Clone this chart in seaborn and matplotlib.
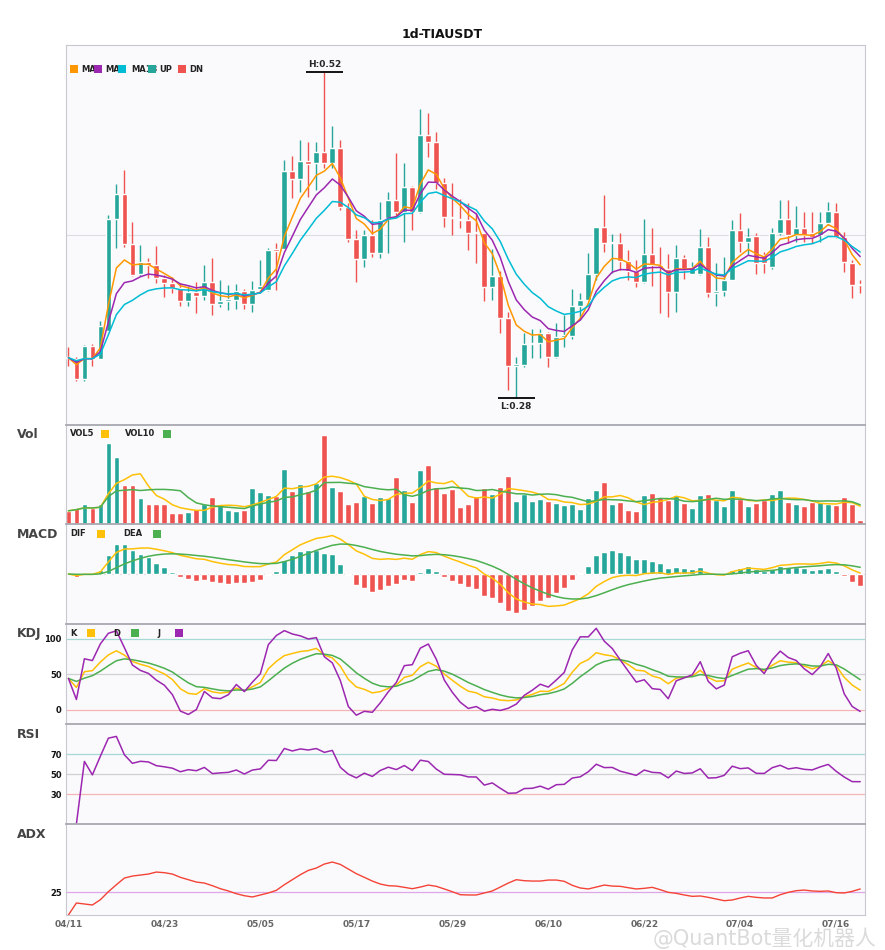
import numpy as np
import pandas as pd
import matplotlib
matplotlib.use("Agg")
import matplotlib.pyplot as plt
import seaborn as sns
from matplotlib.patches import Rectangle
from matplotlib.ticker import MultipleLocator

# ============================================================
# Data (1d candles)
# ============================================================

symbol = "1d-TIAUSDT"
start_date = "2024-04-11"

opens = [0.3100, 0.3085, 0.2937, 0.3178, 0.3080, 0.3291, 0.4115, 0.4300, 0.3931, 0.3709,
         0.3796, 0.3779, 0.3677, 0.3646, 0.3609, 0.3513, 0.3577, 0.3550, 0.3648, 0.3491,
         0.3510, 0.3518, 0.3584, 0.3491, 0.3601, 0.3591, 0.3892, 0.3892, 0.4470, 0.4413,
         0.4544, 0.4526, 0.4610, 0.4531, 0.4637, 0.4207, 0.3968, 0.3820, 0.3997, 0.3867,
         0.4120, 0.4256, 0.4170, 0.4354, 0.4170, 0.4735, 0.4686, 0.4379, 0.4133, 0.4113,
         0.4108, 0.4020, 0.4015, 0.3616, 0.3695, 0.3387, 0.3033, 0.3038, 0.3193, 0.3203,
         0.3272, 0.3100, 0.3247, 0.3252, 0.3474, 0.3518, 0.3710, 0.4059, 0.3937, 0.3937,
         0.3809, 0.3735, 0.3654, 0.3858, 0.3777, 0.3745, 0.3580, 0.3826, 0.3710, 0.3710,
         0.3912, 0.3573, 0.3585, 0.3666, 0.4035, 0.3949, 0.3991, 0.3850, 0.3759, 0.4010,
         0.4114, 0.3998, 0.4047, 0.4010, 0.3998, 0.4084, 0.4165, 0.3986, 0.3789, 0.3632]

highs = [0.3170, 0.3094, 0.3183, 0.3193, 0.3363, 0.4145, 0.4374, 0.4477, 0.4096, 0.3923,
         0.3830, 0.3916, 0.3702, 0.3690, 0.3641, 0.3621, 0.3648, 0.3776, 0.3830, 0.3665,
         0.3628, 0.3633, 0.3596, 0.3658, 0.3813, 0.3904, 0.3941, 0.4551, 0.4581, 0.4699,
         0.4686, 0.4686, 0.5203, 0.4802, 0.4699, 0.4231, 0.4034, 0.4034, 0.4108, 0.4243,
         0.4317, 0.4600, 0.4531, 0.4359, 0.4925, 0.4900, 0.4760, 0.4416, 0.4379, 0.4261,
         0.4231, 0.4157, 0.4015, 0.3892, 0.3734, 0.3427, 0.3100, 0.3272, 0.3301, 0.3301,
         0.3284, 0.3346, 0.3407, 0.3597, 0.3567, 0.3867, 0.4059, 0.4293, 0.4005, 0.4015,
         0.3887, 0.3814, 0.4114, 0.4047, 0.3912, 0.3858, 0.3924, 0.3851, 0.3801, 0.4040,
         0.3981, 0.3789, 0.3838, 0.4109, 0.4158, 0.4047, 0.4011, 0.3875, 0.4047, 0.4256,
         0.4256, 0.4212, 0.4165, 0.4165, 0.4165, 0.4239, 0.4232, 0.4023, 0.3814, 0.3666]

lows = [0.3030, 0.2922, 0.2922, 0.3031, 0.3080, 0.3291, 0.3899, 0.3911, 0.3695, 0.3695,
        0.3677, 0.3646, 0.3537, 0.3567, 0.3476, 0.3476, 0.3419, 0.3518, 0.3407, 0.3468,
        0.3444, 0.3449, 0.3454, 0.3429, 0.3591, 0.3584, 0.3591, 0.3892, 0.4273, 0.4317,
        0.4280, 0.4330, 0.4489, 0.4489, 0.4182, 0.3948, 0.3653, 0.3759, 0.3838, 0.3825,
        0.3862, 0.4133, 0.3948, 0.4034, 0.4163, 0.4576, 0.4335, 0.4059, 0.3997, 0.4047,
        0.3887, 0.3793, 0.3513, 0.3518, 0.3272, 0.2854, 0.2792, 0.3026, 0.3087, 0.3087,
        0.3021, 0.3093, 0.3173, 0.3228, 0.3370, 0.3518, 0.3665, 0.3874, 0.3715, 0.3740,
        0.3666, 0.3617, 0.3646, 0.3622, 0.3425, 0.3390, 0.3432, 0.3671, 0.3708, 0.3703,
        0.3543, 0.3474, 0.3550, 0.3666, 0.3875, 0.3850, 0.3710, 0.3715, 0.3745, 0.3998,
        0.3937, 0.3949, 0.3949, 0.3937, 0.3949, 0.4072, 0.3973, 0.3727, 0.3536, 0.3573]

closes = [0.3092, 0.2937, 0.3178, 0.3080, 0.3326, 0.4115, 0.4300, 0.3931, 0.3702, 0.3796,
          0.3779, 0.3677, 0.3646, 0.3609, 0.3513, 0.3577, 0.3550, 0.3648, 0.3491, 0.3510,
          0.3523, 0.3584, 0.3491, 0.3591, 0.3621, 0.3887, 0.3882, 0.4470, 0.4413, 0.4544,
          0.4521, 0.4610, 0.4531, 0.4637, 0.4207, 0.3968, 0.3820, 0.3997, 0.3867, 0.4108,
          0.4256, 0.4170, 0.4354, 0.4170, 0.4735, 0.4686, 0.4379, 0.4133, 0.4123, 0.4108,
          0.4015, 0.4012, 0.3616, 0.3695, 0.3387, 0.3033, 0.3043, 0.3193, 0.3203, 0.3272,
          0.3100, 0.3247, 0.3259, 0.3474, 0.3518, 0.3710, 0.4059, 0.3936, 0.3944, 0.3809,
          0.3735, 0.3654, 0.3858, 0.3777, 0.3759, 0.3580, 0.3826, 0.3740, 0.3759, 0.3912,
          0.3573, 0.3585, 0.3666, 0.4035, 0.3949, 0.3981, 0.3794, 0.3789, 0.4010, 0.4114,
          0.3998, 0.4047, 0.3998, 0.3981, 0.4084, 0.4175, 0.3986, 0.3801, 0.3629, 0.3627]

# volume in millions of TIA
volumes = [13.3, 15.7, 20.0, 15.7, 20.0, 81.3, 68.0, 39.0, 39.0, 26.0,
           20.0, 20.0, 20.0, 11.0, 11.0, 12.3, 14.7, 20.0, 27.0, 19.0,
           14.0, 13.0, 14.0, 36.0, 32.0, 29.0, 28.0, 56.0, 33.0, 40.0,
           33.0, 41.0, 90.0, 37.0, 33.0, 20.0, 22.0, 28.0, 21.0, 27.0,
           26.0, 47.0, 34.0, 22.0, 54.0, 60.0, 37.0, 31.0, 35.0, 17.0,
           20.0, 28.0, 36.0, 30.0, 37.0, 48.0, 23.0, 30.0, 23.0, 25.0,
           23.0, 21.0, 19.0, 20.0, 15.0, 26.0, 34.0, 42.0, 20.0, 22.0,
           14.0, 13.0, 29.0, 31.0, 27.0, 24.0, 29.0, 21.0, 16.0, 29.0,
           30.0, 24.0, 18.0, 34.0, 25.0, 18.0, 21.0, 24.0, 30.0, 34.0,
           22.0, 20.0, 18.0, 22.0, 22.0, 20.0, 19.0, 27.0, 20.0, 4.0]

adx_values = [0.0, 13.2, 12.1, 11.0, 16.8, 25.6, 33.3, 40.6, 42.8, 43.9,
              45.0, 47.2, 46.5, 45.0, 41.4, 38.8, 36.2, 35.1, 32.2, 28.9,
              26.4, 23.4, 21.2, 19.8, 22.0, 24.2, 27.1, 33.3, 38.8, 44.3,
              49.0, 51.6, 56.0, 58.2, 55.6, 50.5, 45.4, 41.4, 37.3, 34.0,
              32.2, 31.8, 30.4, 28.9, 30.7, 32.9, 31.5, 28.6, 25.6, 22.3,
              22.0, 22.0, 24.2, 26.4, 30.7, 35.1, 38.8, 37.7, 37.3, 37.3,
              38.4, 38.4, 37.0, 32.6, 29.7, 28.6, 30.7, 32.9, 31.8, 31.5,
              30.0, 28.6, 29.3, 30.4, 27.8, 24.9, 23.8, 22.0, 20.5, 20.9,
              19.4, 17.6, 15.7, 16.5, 18.7, 20.5, 19.4, 18.7, 18.7, 22.3,
              24.9, 26.7, 27.4, 26.4, 26.0, 26.4, 24.5, 24.2, 26.0, 28.6]

ema_periods = [5, 8, 13]
vol_periods = [5, 10]

# ============================================================
# Colours
# ============================================================

UP = "#26a69a"
DN = "#ef5350"
MA_COLORS = ["#ff9800", "#9c27b0", "#00bcd4"]
YEL = "#ffc107"
GRN = "#4caf50"
PUR = "#9c27b0"
ADX_C = "#f44336"
BG = "#fafafc"

# ============================================================
# Indicators
# ============================================================

df = pd.DataFrame({"open": opens, "high": highs, "low": lows,
                   "close": closes, "volume": volumes, "adx": adx_values})
df["date"] = pd.date_range(start_date, periods=len(df), freq="D")
n = len(df)
x = np.arange(n)

for p in ema_periods:
    df[f"ema{p}"] = df["close"].ewm(span=p, adjust=False).mean()
for p in vol_periods:
    df[f"vol{p}"] = df["volume"].rolling(p, min_periods=1).mean()

ema12 = df["close"].ewm(span=12, adjust=False).mean()
ema26 = df["close"].ewm(span=26, adjust=False).mean()
df["dif"] = ema12 - ema26
df["dea"] = df["dif"].ewm(span=9, adjust=False).mean()
df["hist"] = 2 * (df["dif"] - df["dea"])

llv = df["low"].rolling(9, min_periods=1).min()
hhv = df["high"].rolling(9, min_periods=1).max()
rsv = (df["close"] - llv) / (hhv - llv) * 100
df["k"] = rsv.ewm(com=2, adjust=False).mean()
df["d"] = df["k"].ewm(com=2, adjust=False).mean()
df["j"] = 3 * df["k"] - 2 * df["d"]

delta = df["close"].diff()
gain = delta.clip(lower=0).ewm(alpha=1 / 14, adjust=True).mean()
loss = (-delta.clip(upper=0)).ewm(alpha=1 / 14, adjust=True).mean()
df["rsi"] = 100 * gain / (gain + loss)

# ============================================================
# Figure layout
# ============================================================

sns.set_theme(style="white")
plt.rcParams["font.family"] = ["DejaVu Sans", "Noto Sans CJK SC"]

W_PX, H_PX = 885, 950
LEFT_PX, RIGHT_PX = 66, 865

fig = plt.figure(figsize=(W_PX / 100, H_PX / 100), dpi=100)
fig.patch.set_facecolor("white")


def add_panel(top_px, bot_px):
    ax = fig.add_axes([LEFT_PX / W_PX, 1 - bot_px / H_PX,
                       (RIGHT_PX - LEFT_PX) / W_PX, (bot_px - top_px) / H_PX])
    ax.set_facecolor(BG)
    ax.set_xlim(-0.3, n - 0.4)
    ax.tick_params(length=0, labelsize=6, pad=3)
    for s in ax.spines.values():
        s.set_color("#c8c8d0")
        s.set_linewidth(0.8)
    return ax, bot_px - top_px


ax_p, hp = add_panel(45, 425)
ax_v, hv = add_panel(425, 524)
ax_m, hm = add_panel(524, 624)
ax_k, hk = add_panel(624, 724)
ax_r, hr = add_panel(724, 824)
ax_a, ha = add_panel(824, 915)

for ax in [ax_v, ax_m, ax_k, ax_r, ax_a]:
    ax.spines["top"].set_color("#a8a8b0")
    ax.spines["top"].set_linewidth(1.3)


def legend_square(ax, ax_h, x_px, top_off, color):
    ax.add_patch(Rectangle(((x_px - LEFT_PX) / (RIGHT_PX - LEFT_PX), 1 - (top_off + 4) / ax_h),
                           8 / (RIGHT_PX - LEFT_PX), 8 / ax_h, transform=ax.transAxes,
                           facecolor=color, edgecolor="none", zorder=8, clip_on=False))


def legend_text(ax, ax_h, x_px, top_off, text):
    ax.text((x_px - LEFT_PX) / (RIGHT_PX - LEFT_PX), 1 - top_off / ax_h, text,
            transform=ax.transAxes, ha="left", va="center", fontsize=6,
            fontweight="bold", color="#222222", zorder=7)


# ============================================================
# Price panel
# ============================================================

o = df["open"].values
c = df["close"].values
hi = df["high"].values
lo = df["low"].values
colors = np.where(c >= o, UP, DN)

ax_p.vlines(x, lo, hi, colors=colors, linewidth=1.0, zorder=2)
body = np.maximum(np.abs(c - o), 0.0007)
ax_p.bar(x, body, bottom=np.minimum(o, c), width=0.72, color=colors, zorder=3)

for p, col in zip(ema_periods, MA_COLORS):
    sns.lineplot(x=x, y=df[f"ema{p}"].values, ax=ax_p, color=col,
                 linewidth=1.1, legend=False, zorder=4)

ax_p.set_ylim(0.2595, 0.540)
ax_p.yaxis.set_major_locator(MultipleLocator(0.2))
ax_p.grid(axis="y", color="#dcdce2", linewidth=0.8)
ax_p.tick_params(labelleft=False, labelbottom=False)
ax_p.set_xticks([])

hi_i = int(np.argmax(hi))
lo_i = int(np.argmin(lo))
ax_p.hlines(hi[hi_i], hi_i - 2.3, hi_i + 2.3, color="black", linewidth=1.3, zorder=5)
ax_p.annotate(f"H:{hi[hi_i]:.2f}", (hi_i, hi[hi_i]), xytext=(0, 2),
              textcoords="offset points", ha="center", va="bottom",
              fontsize=6.5, fontweight="bold")
ax_p.hlines(lo[lo_i], lo_i - 2.3, lo_i + 2.3, color="black", linewidth=1.3, zorder=5)
ax_p.annotate(f"L:{lo[lo_i]:.2f}", (lo_i, lo[lo_i]), xytext=(0, -3),
              textcoords="offset points", ha="center", va="top",
              fontsize=6.5, fontweight="bold")

main_items = [(70, 81, MA_COLORS[0], f"MA{ema_periods[0]}"),
              (94, 105, MA_COLORS[1], f"MA{ema_periods[1]}"),
              (118, 131, MA_COLORS[2], f"MA{ema_periods[2]}"),
              (148, 159, UP, "UP"),
              (178, 189, DN, "DN")]
for sq_x, tx_x, col, lab in main_items:
    legend_square(ax_p, hp, sq_x, 24, col)
    legend_text(ax_p, hp, tx_x, 24, lab)

# ============================================================
# Volume panel
# ============================================================

ax_v.bar(x, df["volume"], width=0.72, color=colors, zorder=2)
sns.lineplot(x=x, y=df["vol5"].values, ax=ax_v, color=YEL, linewidth=1.1, legend=False, zorder=3)
sns.lineplot(x=x, y=df["vol10"].values, ax=ax_v, color=GRN, linewidth=1.1, legend=False, zorder=3)
ax_v.set_ylim(0, df["volume"].max() * 1.11)
ax_v.set_yticks([])
ax_v.set_xticks([])
legend_text(ax_v, hv, 70, 9, "VOL5")
legend_square(ax_v, hv, 101, 9, YEL)
legend_text(ax_v, hv, 125, 9, "VOL10")
legend_square(ax_v, hv, 163, 9, GRN)

# ============================================================
# MACD panel
# ============================================================

hist = df["hist"].values
ax_m.axhline(0, color="#dcdce2", linewidth=0.8, zorder=1)
ax_m.bar(x, hist, width=0.72, color=np.where(hist >= 0, UP, DN), zorder=2)
sns.lineplot(x=x, y=df["dif"].values, ax=ax_m, color=YEL, linewidth=1.1, legend=False, zorder=3)
sns.lineplot(x=x, y=df["dea"].values, ax=ax_m, color=GRN, linewidth=1.1, legend=False, zorder=3)
lim = max(np.nanmax(np.abs(df["dif"].values)) * 1.3, np.nanmax(np.abs(hist)) * 1.1)
ax_m.set_ylim(-lim, lim)
ax_m.set_yticks([])
ax_m.set_xticks([])
legend_text(ax_m, hm, 70, 10, "DIF")
legend_square(ax_m, hm, 97, 10, YEL)
legend_text(ax_m, hm, 123, 10, "DEA")
legend_square(ax_m, hm, 153, 10, GRN)

# ============================================================
# KDJ panel
# ============================================================

for lvl, col in [(100, "#a6d8d6"), (50, "#cfcfd4"), (0, "#f6b3b3")]:
    ax_k.axhline(lvl, color=col, linewidth=0.9, zorder=1)
sns.lineplot(x=x, y=df["k"].values, ax=ax_k, color=YEL, linewidth=1.1, legend=False, zorder=3)
sns.lineplot(x=x, y=df["d"].values, ax=ax_k, color=GRN, linewidth=1.1, legend=False, zorder=3)
sns.lineplot(x=x, y=df["j"].values, ax=ax_k, color=PUR, linewidth=1.1, legend=False, zorder=3)
ax_k.set_ylim(-20, 121)
ax_k.set_yticks([0, 50, 100])
ax_k.set_xticks([])
legend_text(ax_k, hk, 70, 9, "K")
legend_square(ax_k, hk, 87, 9, YEL)
legend_text(ax_k, hk, 113, 9, "D")
legend_square(ax_k, hk, 131, 9, GRN)
legend_text(ax_k, hk, 157, 9, "J")
legend_square(ax_k, hk, 175, 9, PUR)

# ============================================================
# RSI panel
# ============================================================

for lvl, col in [(70, "#a6d8d6"), (50, "#cfcfd4"), (30, "#f6b3b3")]:
    ax_r.axhline(lvl, color=col, linewidth=0.9, zorder=1)
sns.lineplot(x=x, y=df["rsi"].values, ax=ax_r, color=PUR, linewidth=1.1, legend=False, zorder=3)
ax_r.set_ylim(0, 100)
ax_r.set_yticks([30, 50, 70])
ax_r.set_xticks([])

# ============================================================
# ADX panel
# ============================================================

ax_a.axhline(25, color="#dda6e6", linewidth=0.9, zorder=1)
sns.lineplot(x=x, y=df["adx"].values, ax=ax_a, color=ADX_C, linewidth=1.0, legend=False, zorder=3)
ax_a.set_ylim(0, 100)
ax_a.set_yticks([25])
tick_pos = list(range(0, n, 12))
ax_a.set_xticks(tick_pos)
ax_a.set_xticklabels([df["date"].iloc[i].strftime("%m/%d") for i in tick_pos])
for lab in ax_a.get_xticklabels():
    lab.set_fontweight("bold")
    lab.set_color("#666666")
    lab.set_fontsize(6.5)

for ax in [ax_k, ax_r, ax_a]:
    for lab in ax.get_yticklabels():
        lab.set_fontweight("bold")
        lab.set_color("#111111")
    ax.set_xlabel("")
    ax.set_ylabel("")
for ax in [ax_p, ax_v, ax_m]:
    ax.set_xlabel("")
    ax.set_ylabel("")

# ============================================================
# Titles, panel names, watermark
# ============================================================

fig.text(0.5, 1 - 34 / H_PX, symbol, ha="center", va="center",
         fontsize=9, fontweight="bold", color="#111111")

for name, y_px in [("Vol", 435), ("MACD", 535), ("KDJ", 634), ("RSI", 735), ("ADX", 834)]:
    fig.text(17 / W_PX, 1 - y_px / H_PX, name, ha="left", va="center",
             fontsize=9, fontweight="bold", color="#444444")

# semi-transparent publisher watermark, bottom right (kept just below the date labels)
fig.text(876 / W_PX, 1 - 938 / H_PX, "@QuantBot量化机器人", ha="right", va="center",
         fontsize=15, color="#d4d4d4", alpha=0.85,
         family=["DejaVu Sans", "Noto Sans CJK SC"], zorder=10)

fig.savefig("out.png", dpi=100, facecolor="white")
plt.close(fig)
